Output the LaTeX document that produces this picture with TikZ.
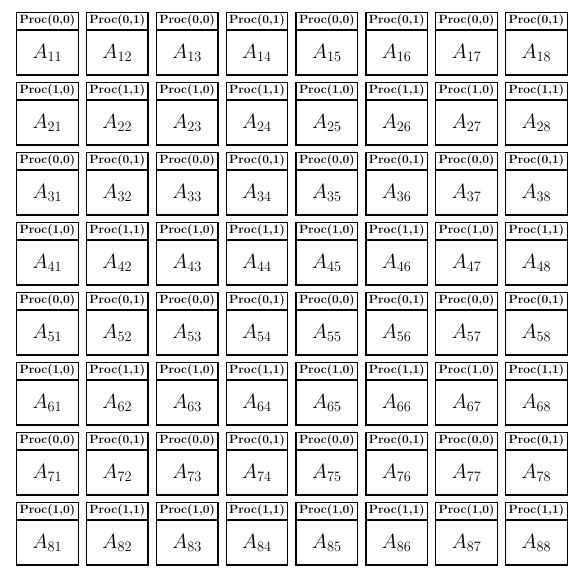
\RequirePackage{fix-cm}
\documentclass[tikz,border=0pt]{standalone}
\tikzset{
  hdr/.style={draw, line width=1.3pt, minimum width=61.5pt, minimum height=16.5pt, inner sep=0pt,
    anchor=north west, font=\fontsize{12}{13}\selectfont\bfseries},
  body/.style={draw, line width=1.3pt, minimum width=61.5pt, minimum height=44.5pt, inner sep=0pt,
    anchor=north, font=\fontsize{20.5}{24}\selectfont}
}
\begin{document}
\begin{tikzpicture}[x=1pt,y=-1pt]
\useasboundingbox (0,0) rectangle (579,573);
\foreach \i in {1,...,8}{
  \foreach \j in {1,...,8}{
    \pgfmathtruncatemacro{\pr}{1-mod(\i,2)}
    \pgfmathtruncatemacro{\pc}{1-mod(\j,2)}
    \node[hdr] (h\i\j) at ({16+69.86*(\j-1)},{12+70*(\i-1)}) {Proc(\pr,\pc)};
    \node[body] (b\i\j) at (h\i\j.south) {$A_{\i\j}$};
  }
}
\end{tikzpicture}
\end{document}
